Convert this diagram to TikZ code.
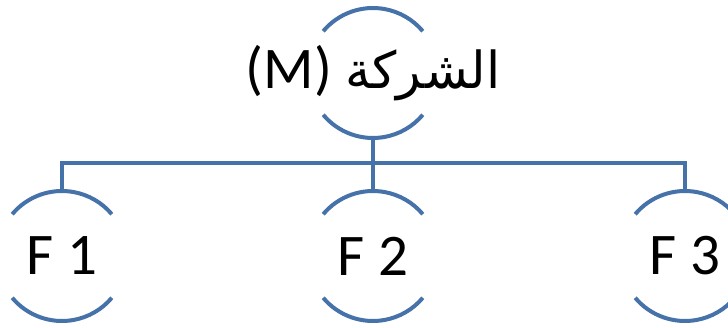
\documentclass[tikz,border=0pt]{standalone}
\usepackage{fontspec}
\setmainfont{Carlito}
\newfontfamily\arabicfont[Script=Arabic]{DejaVu Sans}
\TeXXeTstate=1
\usepackage{tikz}
\usetikzlibrary{positioning}
\definecolor{linkblue}{RGB}{70,114,170}
\tikzset{
  unit/.style={minimum height=130pt, inner sep=0pt, font=\fontsize{59}{61}\selectfont},
  arcline/.style={draw=linkblue, line width=4pt},
  link/.style={draw=linkblue, line width=4pt}
}

\begin{document}
\begin{tikzpicture}[x=1pt,y=1pt]
    \useasboundingbox (0,0) rectangle (728,327);

    % الشركة الأم
    \node[unit] (m) at (373,254) {\beginR{\arabicfont\fontsize{51}{53}\selectfont الشركة} \beginL(M)\endL\endR};

    % الفروع
    \node[unit] (f1) at (62,71) {F 1};
    \node[unit] (f2) at (373,71) {F 2};
    \node[unit] (f3) at (685,71) {F 3};

    % أقواس حول كل عقدة
    \foreach \n in {m,f1,f2,f3} {
        \draw[arcline] ([shift={(140:65pt)}]\n.center) arc[start angle=140, end angle=40, radius=65pt];
        \draw[arcline] ([shift={(220:65pt)}]\n.center) arc[start angle=220, end angle=320, radius=65pt];
    }

    % الوصلات
    \coordinate (bus) at (373,164);
    \draw[link] (m.south) -- (bus);
    \draw[link] (bus) -| (f1.north);
    \draw[link] (bus) -- (f2.north);
    \draw[link] (bus) -| (f3.north);
\end{tikzpicture}
\end{document}
